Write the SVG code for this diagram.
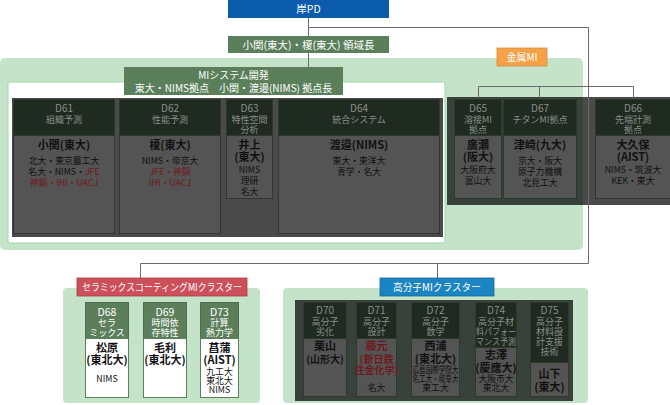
<svg xmlns="http://www.w3.org/2000/svg" width="670" height="405" viewBox="0 0 670 405">
<style>
text{font-family:"Noto Sans CJK JP","Noto Sans",sans-serif;text-anchor:middle}
.w{fill:#fff}
.lg{fill:#c5e3c8}
.dim{fill:#000;fill-opacity:0.71}
.hd{fill:#1f2a20;stroke:#2c392d;stroke-width:1}
.bd{fill:#545454;stroke:#2c392d;stroke-width:1}
.gh{fill:#5b7f5b;stroke:#4d6e4d;stroke-width:1}
.gb{fill:#fff;stroke:#5b7f5b;stroke-width:1}
.ht{fill:#8a8e8a;font-size:9px}
.hn{fill:#8a8e8a;font-size:10px}
.gt{fill:#fff;font-size:9px}
.gn{fill:#fff;font-size:10.5px}
.nm{fill:#111;font-size:11px;font-weight:bold}
.af{fill:#111;font-size:8.8px}
.rd{fill:#6e1a1e}
.lbl{fill:#fff;font-size:10px}
</style>
<!-- backgrounds -->
<rect class="lg" x="0" y="58" width="583" height="192" rx="5"/>
<rect x="8" y="82" width="437" height="161" rx="2" fill="#fff" stroke="#9ed6aa" stroke-width="1"/>
<rect class="lg" x="63" y="288" width="197" height="115" rx="4"/>
<rect class="lg" x="283" y="288" width="305" height="115" rx="4"/>
<rect class="dim" x="12" y="98" width="431" height="139"/>
<rect class="dim" x="447" y="97" width="223" height="108"/>
<rect class="dim" x="295" y="300" width="278" height="101"/>

<g id="connectors" stroke="#6b6b6b" stroke-width="1" fill="none">
<path d="M308.5 18V36M308.5 53V67M308.5 27.5H588.5V263.5M140.5 263.5H588.5M140.5 263.5V278M437.5 263.5V278M478.5 86.5H633.5M478.5 86.5V98M539.5 86.5V98M633.5 86.5V98"/>
</g>

<g id="pd"><rect x="228" y="0" width="161" height="18" fill="#0b5cad"/><text class="gn" x="308.5" y="13">岸PD</text></g>
<g id="leader"><rect x="228" y="36" width="161" height="17" fill="#5b7f5b"/><text class="gn" x="308.5" y="48.5">小関(東大)・榎(東大) 領域長</text></g>
<g id="mi-system"><rect x="124" y="67" width="219" height="28" fill="#5b7f5b"/><text class="lbl" x="233.5" y="79">MIシステム開発</text><text class="lbl" x="233.5" y="92">東大・NIMS拠点　小関・渡邉(NIMS) 拠点長</text></g>
<g id="metal-mi"><rect x="497" y="48" width="50" height="18" fill="#f4a147" stroke="#d9893a" stroke-width="0.8"/><text class="lbl" x="522" y="61">金属MI</text></g>

<g id="D61"><rect class="hd" x="13.5" y="99.5" width="101" height="36"/><rect class="bd" x="13.5" y="135.5" width="101" height="98"/>
<text class="hn" x="64" y="111.5">D61</text><text class="ht" x="64" y="122.5">組織予測</text>
<text class="nm" x="64" y="149">小関(東大)</text><text class="af" x="64" y="164">北大・東京農工大</text><text class="af" x="64" y="175">名大・NIMS・<tspan class="rd">JFE</tspan></text><text class="af rd" x="64" y="185.5">神鋼・IHI・UACJ</text></g>
<g id="D62"><rect class="hd" x="119.5" y="99.5" width="101" height="36"/><rect class="bd" x="119.5" y="135.5" width="101" height="98"/>
<text class="hn" x="170" y="111.5">D62</text><text class="ht" x="170" y="122.5">性能予測</text>
<text class="nm" x="170" y="149">榎(東大)</text><text class="af" x="170" y="164">NIMS・帝京大</text><text class="af rd" x="170" y="175">JFE・神鋼</text><text class="af rd" x="170" y="185.5">IHI・UACJ</text></g>
<g id="D63"><rect class="hd" x="226.5" y="99.5" width="46" height="36"/><rect class="bd" x="226.5" y="135.5" width="46" height="63"/>
<text class="hn" x="249.5" y="111.5">D63</text><text class="ht" x="249.5" y="122.5">特性空間</text><text class="ht" x="249.5" y="132.5">分析</text>
<text class="nm" x="249.5" y="149">井上</text><text class="nm" x="249.5" y="161">(東大)</text><text class="af" x="249.5" y="172.5">NIMS</text><text class="af" x="249.5" y="183.5">理研</text><text class="af" x="249.5" y="194.5">名大</text></g>
<g id="D64"><rect class="hd" x="278.5" y="99.5" width="161" height="36"/><rect class="bd" x="278.5" y="135.5" width="161" height="98"/>
<text class="hn" x="359" y="111.5">D64</text><text class="ht" x="359" y="122.5">統合システム</text>
<text class="nm" x="359" y="149">渡邉(NIMS)</text><text class="af" x="359" y="164">東大・東洋大</text><text class="af" x="359" y="175">青学・名大</text></g>
<g id="D65"><rect class="hd" x="454.5" y="99.5" width="47" height="36"/><rect class="bd" x="454.5" y="135.5" width="47" height="63"/>
<text class="hn" x="478" y="111.5">D65</text><text class="ht" x="478" y="122.5">溶接MI</text><text class="ht" x="478" y="132.5">拠点</text>
<text class="nm" x="478" y="149">廣瀬</text><text class="nm" x="478" y="161">(阪大)</text><text class="af" x="478" y="172.5">大阪府大</text><text class="af" x="478" y="183.5">富山大</text></g>
<g id="D67"><rect class="hd" x="503.5" y="99.5" width="73" height="36"/><rect class="bd" x="503.5" y="135.5" width="73" height="63"/>
<text class="hn" x="540" y="111.5">D67</text><text class="ht" x="540" y="122.5">チタンMI拠点</text>
<text class="nm" x="540" y="149">津崎(九大)</text><text class="af" x="540" y="164">京大・阪大</text><text class="af" x="540" y="175">原子力機構</text><text class="af" x="540" y="185.5">北見工大</text></g>
<g id="D66"><rect class="hd" x="595.5" y="99.5" width="76" height="36"/><rect class="bd" x="595.5" y="135.5" width="76" height="63"/>
<text class="hn" x="633" y="111.5">D66</text><text class="ht" x="633" y="122.5">先端計測</text><text class="ht" x="633" y="132.5">拠点</text>
<text class="nm" x="633" y="149">大久保</text><text class="nm" x="633" y="161">(AIST)</text><text class="af" x="633" y="172.5">NIMS・筑波大</text><text class="af" x="633" y="183.5">KEK・東大</text></g>

<g id="ceramic-cluster"><rect x="77" y="278" width="170" height="18" fill="#cc4f5a" stroke="#a83e48" stroke-width="0.8"/><text class="lbl" x="162" y="291" textLength="160" lengthAdjust="spacingAndGlyphs">セラミックスコーティングMIクラスター</text></g>
<g id="D68"><rect class="gh" x="85.5" y="302.5" width="43" height="36"/><rect class="gb" x="85.5" y="338.5" width="43" height="59"/>
<text class="gn" x="107" y="316">D68</text><text class="gt" x="107" y="325.5">セラ</text><text class="gt" x="107" y="335.5">ミックス</text>
<text class="nm" x="107" y="352">松原</text><text class="nm" x="107" y="363.5">(東北大)</text><text class="af" x="107" y="381.5">NIMS</text></g>
<g id="D69"><rect class="gh" x="143.5" y="302.5" width="43" height="36"/><rect class="gb" x="143.5" y="338.5" width="43" height="59"/>
<text class="gn" x="165" y="316">D69</text><text class="gt" x="165" y="325.5">時間依</text><text class="gt" x="165" y="335.5">存特性</text>
<text class="nm" x="165" y="352">毛利</text><text class="nm" x="165" y="363.5">(東北大)</text></g>
<g id="D73"><rect class="gh" x="200.5" y="302.5" width="38" height="36"/><rect class="gb" x="200.5" y="338.5" width="38" height="59"/>
<text class="gn" x="219.5" y="316">D73</text><text class="gt" x="219.5" y="325.5">計算</text><text class="gt" x="219.5" y="335.5">熱力学</text>
<text class="nm" x="219.5" y="351.5">菖蒲</text><text class="nm" x="219.5" y="364">(AIST)</text><text class="af" x="219.5" y="375">九工大</text><text class="af" x="219.5" y="384">東北大</text><text class="af" x="219.5" y="393">NIMS</text></g>

<g id="polymer-cluster"><rect x="380" y="278" width="114" height="18" fill="#1b84c2" stroke="#156a9c" stroke-width="0.8"/><text class="lbl" x="437" y="291" textLength="88" lengthAdjust="spacingAndGlyphs">高分子MIクラスター</text></g>
<g id="D70"><rect class="hd" x="303.5" y="302.5" width="43" height="36"/><rect class="bd" x="303.5" y="338.5" width="43" height="58"/>
<text class="hn" x="325" y="313.5">D70</text><text class="ht" x="325" y="324.5">高分子</text><text class="ht" x="325" y="335">劣化</text>
<text class="nm" x="325" y="350">栗山</text><text class="af" x="325" y="362.5" style="font-weight:bold;font-size:10px">(山形大)</text></g>
<g id="D71"><rect class="hd" x="356.5" y="302.5" width="40" height="36"/><rect class="bd" x="356.5" y="338.5" width="40" height="58"/>
<text class="hn" x="376.5" y="313.5">D71</text><text class="ht" x="376.5" y="324.5">高分子</text><text class="ht" x="376.5" y="335">設計</text>
<text class="nm rd" x="376.5" y="350">藤元</text><text class="af rd" x="376.5" y="362.5" style="font-weight:bold;font-size:10px">(新日鉄</text><text class="af rd" x="376.5" y="373.5" style="font-weight:bold;font-size:10px">住金化学)</text><text class="af" x="376.5" y="391">名大</text></g>
<g id="D72"><rect class="hd" x="411.5" y="302.5" width="48" height="36"/><rect class="bd" x="411.5" y="338.5" width="48" height="58"/>
<text class="hn" x="435.5" y="313.5">D72</text><text class="ht" x="435.5" y="324.5">高分子</text><text class="ht" x="435.5" y="335">数学</text>
<text class="nm" x="435.5" y="350">西浦</text><text class="nm" x="435.5" y="362.5">(東北大)</text><text class="af" x="435.5" y="373" textLength="46" lengthAdjust="spacingAndGlyphs">広島国際学院大</text><text class="af" x="435.5" y="382" textLength="46" lengthAdjust="spacingAndGlyphs">名工大・岐阜大</text><text class="af" x="435.5" y="391">東工大</text></g>
<g id="D74"><rect class="hd" x="475.5" y="302.5" width="41" height="45"/><rect class="bd" x="475.5" y="347.5" width="41" height="49"/>
<text class="hn" x="496" y="313.5">D74</text><text class="ht" x="496" y="324.5">高分子材</text><text class="ht" x="496" y="334.5" textLength="40" lengthAdjust="spacingAndGlyphs">料パフォー</text><text class="ht" x="496" y="344.5" textLength="40" lengthAdjust="spacingAndGlyphs">マンス予測</text>
<text class="nm" x="496" y="359">志澤</text><text class="nm" x="496" y="371.5">(慶應大)</text><text class="af" x="496" y="381.5">大阪市大</text><text class="af" x="496" y="391">東北大</text></g>
<g id="D75"><rect class="hd" x="530.5" y="302.5" width="38" height="60"/><rect class="bd" x="530.5" y="362.5" width="38" height="34"/>
<text class="hn" x="549.5" y="313.5">D75</text><text class="ht" x="549.5" y="324.5">高分子</text><text class="ht" x="549.5" y="334.5">材料設</text><text class="ht" x="549.5" y="344.5">計支援</text><text class="ht" x="549.5" y="355">技術</text>
<text class="nm" x="549.5" y="377.5">山下</text><text class="nm" x="549.5" y="390.5">(東大)</text></g>
</svg>
